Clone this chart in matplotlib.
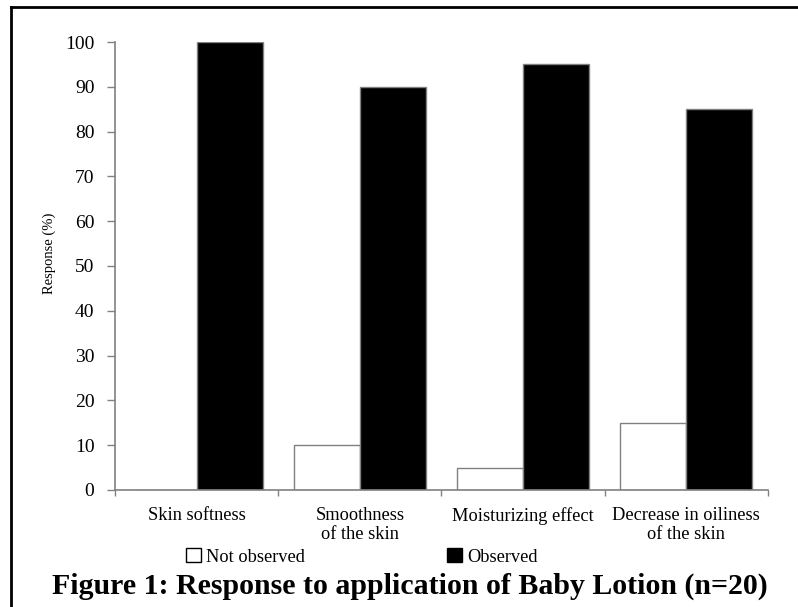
import matplotlib.pyplot as plt
import numpy as np
from matplotlib.patches import Patch
from matplotlib.lines import Line2D

categories = ["Skin softness", "Smoothness\nof the skin", "Moisturizing effect",
              "Decrease in oiliness\nof the skin"]
not_observed = [0, 10, 5, 15]
observed = [100, 90, 95, 85]
y_ticks = [0, 10, 20, 30, 40, 50, 60, 70, 80, 90, 100]

plt.rcParams['font.family'] = ['Liberation Serif', 'DejaVu Serif']

fig = plt.figure(figsize=(7.98, 6.07), dpi=100)
ax = fig.add_axes([0.1441, 0.1928, 0.8183, 0.738])

x = np.arange(len(categories))
w = 0.405
ax.bar(x - w / 2, not_observed, w, color='white', edgecolor='#808080', linewidth=1)
ax.bar(x + w / 2, observed, w, color='black', edgecolor='#808080', linewidth=1)

ax.set_xlim(-0.5, len(categories) - 0.5)
ax.set_ylim(0, 100)
ax.set_yticks(y_ticks)
ax.tick_params(axis='y', direction='out', length=5.8, width=1, color='#808080',
               labelsize=14, pad=9)
# x ticks sit on the category boundaries
ax.set_xticks(np.arange(len(categories) + 1) - 0.5)
ax.set_xticklabels([])
ax.tick_params(axis='x', direction='out', length=4, width=1, color='#808080')
ax.set_xticks(x, minor=True)
ax.set_xticklabels(categories, minor=True, fontsize=13.2, linespacing=1.2)
ax.tick_params(axis='x', which='minor', length=0, pad=12)

for s in ['top', 'right']:
    ax.spines[s].set_visible(False)
for s in ['left', 'bottom']:
    ax.spines[s].set_color('#808080')
    ax.spines[s].set_linewidth(1.2)

ax.set_ylabel("Response (%)", fontsize=10.5)
ax.yaxis.set_label_coords(-0.090, 0.529)

handles = [Patch(facecolor='white', edgecolor='black', linewidth=1),
           Patch(facecolor='black', edgecolor='black', linewidth=1)]
fig.legend(handles, ["Not observed", "Observed"], ncol=2, frameon=False,
           loc='center left', bbox_to_anchor=(0.233, 0.0824), fontsize=13.2,
           handlelength=0.8, handleheight=0.8, handletextpad=0.27,
           columnspacing=7.8, borderpad=0, borderaxespad=0)

fig.text(0.514, 0.0214, "Figure 1: Response to application of Baby Lotion (n=20)",
         ha='center', va='baseline', fontsize=21.5, fontweight='bold')

# outer frame (only left and top edges visible in the crop)
fig.add_artist(Line2D([0.014, 0.014], [0, 0.988], color='black', linewidth=2,
                      transform=fig.transFigure))
fig.add_artist(Line2D([0.014, 1.0], [0.988, 0.988], color='black', linewidth=2,
                      transform=fig.transFigure))

fig.savefig("out.png", dpi=100)
